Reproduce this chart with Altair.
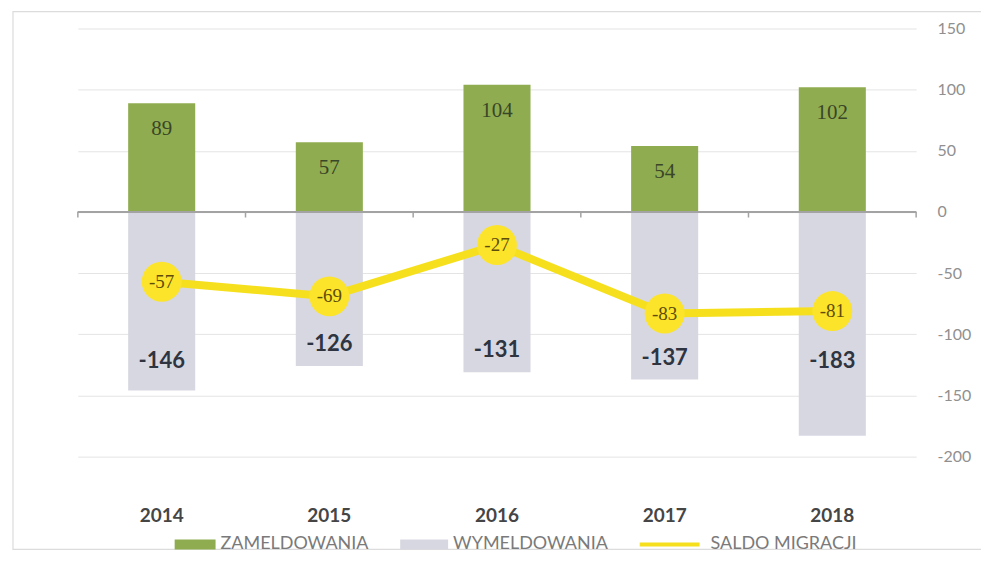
import altair as alt
import pandas as pd

years = ["2014", "2015", "2016", "2017", "2018"]
zameldowania = [89, 57, 104, 54, 102]
wymeldowania = [-146, -126, -131, -137, -183]
saldo = [-57, -69, -27, -83, -81]
series = ["ZAMELDOWANIA", "WYMELDOWANIA", "SALDO MIGRACJI"]
y_ticks = [150, 100, 50, 0, -50, -100, -150, -200]

GREEN = "#8fad50"
GRAY = "#d7d7e2"
YELLOW = "#f6e01e"
CIRCLE = "#fce42a"

df = pd.DataFrame({"year": years, "zam": zameldowania, "wym": wymeldowania, "saldo": saldo})
legend_df = pd.DataFrame({"series": series})

xscale = alt.Scale(paddingInner=0, paddingOuter=0)
yscale = alt.Scale(domain=[-200, 150], nice=False)

x_enc = alt.X("year:N", scale=xscale, sort=years,
              axis=alt.Axis(title=None, domain=False, ticks=False, labelAngle=0,
                            labelFont="Lato", labelFontSize=19, labelFontWeight="bold",
                            labelColor="#454545", labelPadding=50))

y_axis = alt.Axis(title=None, orient="right", values=y_ticks, domain=False, ticks=False,
                  labelFont="Lato", labelFontSize=16, labelColor="#909090", labelPadding=21,
                  gridColor="#e4e4e4", gridWidth=1, labelAlign="left",
                  labelExpr="'' + datum.value")

base = alt.Chart(df).transform_calculate(
    zam_t="'' + datum.zam", wym_t="'' + datum.wym", saldo_t="'' + datum.saldo",
    ly="max(datum.wym, -140)"
)

frame = alt.Chart(legend_df.head(1)).mark_rect(fill=None, stroke="#dcdcdc", strokeWidth=1.2).encode(
    x=alt.value(-65), x2=alt.value(906), y=alt.value(-17), y2=alt.value(522)
)

bars_zam = base.mark_bar(color=GREEN, width=alt.RelativeBandSize(0.4)).encode(
    x=x_enc, y=alt.Y("zam:Q", scale=yscale, axis=y_axis)
)
bars_wym = base.mark_bar(color=GRAY, width=alt.RelativeBandSize(0.4)).encode(
    x=alt.X("year:N", sort=years), y=alt.Y("wym:Q")
)

zero_line = base.mark_rule(color="#a3a3a3", strokeWidth=1.5).encode(y=alt.datum(0))
ticks_left = base.mark_rule(color="#a3a3a3", strokeWidth=1.5).encode(
    x=alt.X("year:N", sort=years, bandPosition=0), y=alt.datum(0), y2=alt.datum(-4.5)
)
ticks_right = base.transform_filter(alt.datum.year == years[-1]).mark_rule(
    color="#a3a3a3", strokeWidth=1.5).encode(
    x=alt.X("year:N", sort=years, bandPosition=1), y=alt.datum(0), y2=alt.datum(-4.5)
)

line = base.mark_line(color=YELLOW, strokeWidth=8).encode(
    x=alt.X("year:N", sort=years), y=alt.Y("saldo:Q")
)
circles = base.mark_circle(color=CIRCLE, size=1600, opacity=1).encode(
    x=alt.X("year:N", sort=years), y=alt.Y("saldo:Q")
)

txt_zam = base.mark_text(font="Liberation Serif", fontSize=21, color="#3a4628",
                         baseline="middle", dy=26).encode(
    x=alt.X("year:N", sort=years), y=alt.Y("zam:Q"), text=alt.Text("zam_t:N")
)
txt_wym = base.mark_text(
    font="Lato", fontSize=22, fontWeight="bold", color="#2e3440",
    baseline="middle", dy=-22).encode(
    x=alt.X("year:N", sort=years), y=alt.Y("ly:Q"), text=alt.Text("wym_t:N")
)
txt_saldo = base.mark_text(font="Liberation Serif", fontSize=19, color="#5e4c0a",
                           baseline="middle").encode(
    x=alt.X("year:N", sort=years), y=alt.Y("saldo:Q"), text=alt.Text("saldo_t:N")
)

paths = [
    "M-1.05,-0.25L1,-0.25L1,0.25L-1.05,0.25Z",
    "M-1.4,-0.25L1,-0.25L1,0.25L-1.4,0.25Z",
    "M-2.3,-0.1L0.7,-0.1L0.7,0.1L-2.3,0.1Z",
]
leg = alt.Legend(title=None, orient="none", legendX=98, legendY=497, direction="horizontal",
                 labelFont="Lato", labelFontSize=18, labelColor="#7a7a7a", symbolSize=1600,
                 symbolOpacity=1, symbolStrokeWidth=0, labelOffset=5, columnPadding=31)
legend_layer = alt.Chart(legend_df).mark_point(filled=True, opacity=0).encode(
    color=alt.Color("series:N", sort=series,
                    scale=alt.Scale(domain=series, range=[GREEN, GRAY, YELLOW]), legend=leg),
    shape=alt.Shape("series:N", sort=series,
                    scale=alt.Scale(domain=series, range=paths), legend=leg),
)

chart = alt.layer(
    frame, bars_zam, bars_wym, zero_line, ticks_left, ticks_right, line, circles,
    txt_zam, txt_wym, txt_saldo, legend_layer
).properties(
    width=840, height=429,
    autosize=alt.AutoSizeParams(type="none"),
    padding={"left": 70, "top": 20, "right": 65, "bottom": 96},
    background="white",
).configure_view(stroke=None)

chart.save("out.html", embed_options={"renderer": "svg", "actions": False})
